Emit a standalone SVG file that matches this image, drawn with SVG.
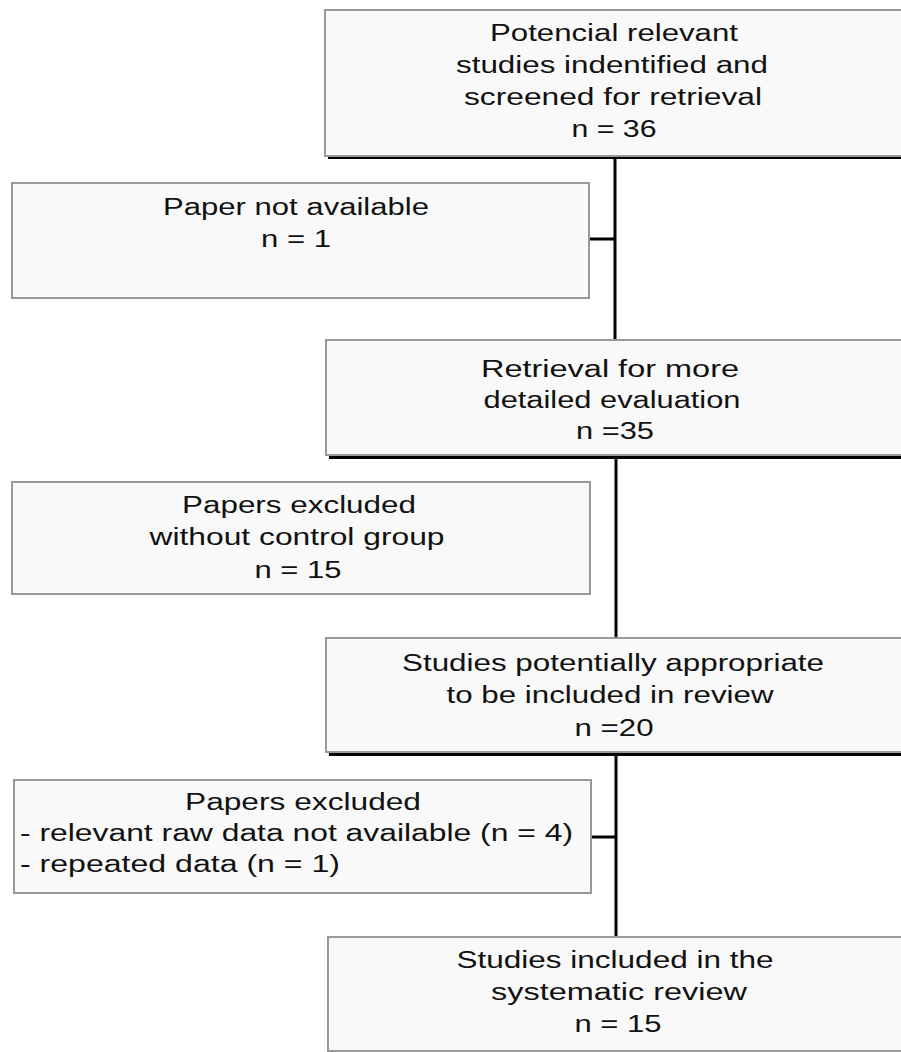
<svg xmlns="http://www.w3.org/2000/svg" width="901" height="1052" viewBox="0 0 901 1052">
<style>
.box{fill:#f9f9f9;stroke:#999999;stroke-width:2}
.shadow{fill:#000000}
.t{font-family:"Liberation Sans",Arial,sans-serif;font-size:23px;fill:#111111;text-anchor:middle}
.l{text-anchor:start}
.c{stroke:#000000;stroke-width:3;fill:none}
</style>
<rect x="0" y="0" width="901" height="1052" fill="#ffffff"/>
<g id="connectors">
<line class="c" x1="615" y1="156" x2="615" y2="340"/>
<line class="c" x1="589" y1="239" x2="615" y2="239"/>
<line class="c" x1="616" y1="457" x2="616" y2="638"/>
<line class="c" x1="616" y1="755" x2="616" y2="937"/>
<line class="c" x1="591" y1="837" x2="616" y2="837"/>
</g>
<g id="node-identified">
<rect class="shadow" x="328" y="13" width="600" height="146"/>
<rect class="box" x="325" y="10" width="600" height="146"/>
<text class="t" x="614" y="41" textLength="248" lengthAdjust="spacingAndGlyphs">Potencial relevant</text>
<text class="t" x="612" y="73" textLength="312" lengthAdjust="spacingAndGlyphs">studies indentified and</text>
<text class="t" x="613" y="105" textLength="298" lengthAdjust="spacingAndGlyphs">screened for retrieval</text>
<text class="t" x="614" y="137" textLength="85" lengthAdjust="spacingAndGlyphs">n = 36</text>
</g>
<g id="node-not-available">
<rect class="box" x="12" y="183" width="577" height="115"/>
<text class="t" x="296" y="215" textLength="266" lengthAdjust="spacingAndGlyphs">Paper not available</text>
<text class="t" x="296" y="247" textLength="70" lengthAdjust="spacingAndGlyphs">n = 1</text>
</g>
<g id="node-retrieval">
<rect class="shadow" x="329" y="344" width="600" height="115"/>
<rect class="box" x="326" y="340" width="600" height="115"/>
<text class="t" x="610" y="377" textLength="258" lengthAdjust="spacingAndGlyphs">Retrieval for more</text>
<text class="t" x="612" y="408" textLength="257" lengthAdjust="spacingAndGlyphs">detailed evaluation</text>
<text class="t" x="615" y="439" textLength="78" lengthAdjust="spacingAndGlyphs">n =35</text>
</g>
<g id="node-no-control">
<rect class="box" x="12" y="482" width="578" height="112"/>
<text class="t" x="299" y="513" textLength="234" lengthAdjust="spacingAndGlyphs">Papers excluded</text>
<text class="t" x="297" y="545" textLength="295" lengthAdjust="spacingAndGlyphs">without control group</text>
<text class="t" x="298" y="578" textLength="87" lengthAdjust="spacingAndGlyphs">n = 15</text>
</g>
<g id="node-potentially">
<rect class="shadow" x="329" y="642" width="600" height="114"/>
<rect class="box" x="326" y="638" width="600" height="114"/>
<text class="t" x="613" y="671" textLength="422" lengthAdjust="spacingAndGlyphs">Studies potentially appropriate</text>
<text class="t" x="610" y="703" textLength="327" lengthAdjust="spacingAndGlyphs">to be included in review</text>
<text class="t" x="614" y="736" textLength="79" lengthAdjust="spacingAndGlyphs">n =20</text>
</g>
<g id="node-excluded">
<rect class="box" x="14" y="780" width="577" height="113"/>
<text class="t" x="303" y="810" textLength="236" lengthAdjust="spacingAndGlyphs">Papers excluded</text>
<text class="t l" x="20" y="841" textLength="553" lengthAdjust="spacingAndGlyphs">- relevant raw data not available (n = 4)</text>
<text class="t l" x="20" y="872" textLength="320" lengthAdjust="spacingAndGlyphs">- repeated data (n = 1)</text>
</g>
<g id="node-included">
<rect class="box" x="328" y="937" width="600" height="114"/>
<text class="t" x="615" y="968" textLength="317" lengthAdjust="spacingAndGlyphs">Studies included in the</text>
<text class="t" x="619" y="1000" textLength="256" lengthAdjust="spacingAndGlyphs">systematic review</text>
<text class="t" x="618" y="1032" textLength="87" lengthAdjust="spacingAndGlyphs">n = 15</text>
</g>
</svg>
